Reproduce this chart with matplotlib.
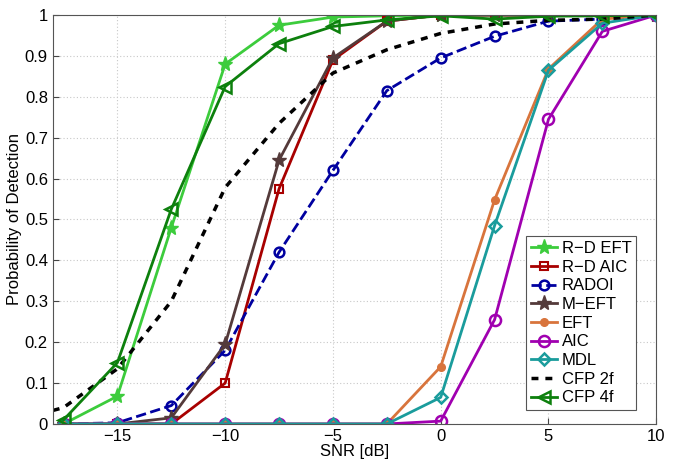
import matplotlib
matplotlib.use("Agg")
import matplotlib.pyplot as plt

plt.rcParams['font.family'] = ['Liberation Sans', 'DejaVu Sans']

snr = [-17.5, -15, -12.5, -10, -7.5, -5, -2.5, 0, 2.5, 5, 7.5, 10]
rd_eft = [0.0, 0.068, 0.48, 0.88, 0.975, 0.995, 0.998, 1.0, 1.0, 1.0, 1.0, 1.0]
rd_aic = [0.0, 0.0, 0.0, 0.10, 0.575, 0.89, 0.985, 1.0, 1.0, 1.0, 1.0, 1.0]
radoi = [0.0, 0.003, 0.045, 0.18, 0.42, 0.62, 0.815, 0.895, 0.948, 0.985, 0.99, 1.0]
m_eft = [0.0, 0.0, 0.015, 0.195, 0.645, 0.895, 0.985, 1.0, 1.0, 1.0, 1.0, 1.0]
eft = [0.0, 0.0, 0.0, 0.0, 0.0, 0.0, 0.0, 0.14, 0.548, 0.868, 0.99, 1.0]
aic = [0.0, 0.0, 0.0, 0.0, 0.0, 0.0, 0.0, 0.007, 0.255, 0.745, 0.96, 1.0]
mdl = [0.0, 0.0, 0.0, 0.0, 0.0, 0.0, 0.0, 0.065, 0.485, 0.865, 0.98, 1.0]
cfp2_snr = [-18, -17.5, -15, -12.5, -10, -7.5, -5, -2.5, 0, 2.5, 5, 7.5, 10]
cfp2 = [0.033, 0.04, 0.135, 0.30, 0.578, 0.735, 0.858, 0.915, 0.955, 0.978, 0.987, 0.99, 1.0]
cfp4 = [0.01, 0.15, 0.525, 0.825, 0.93, 0.972, 0.988, 0.998, 0.99, 0.997, 0.998, 1.0]

fig = plt.figure(figsize=(6.85, 4.69), dpi=100)
ax = fig.add_axes([0.077, 0.096, 0.881, 0.872])

lw = 2.0
ax.plot(snr, rd_eft, '-', color='#3ccc3c', lw=lw, marker='*', ms=11, mfc='#3ccc3c', mec='#3ccc3c', label='R\u2212D EFT')
ax.plot(snr, rd_aic, '-', color='#a80000', lw=lw, marker='s', ms=6, mfc='none', mec='#a80000', mew=1.5, label='R\u2212D AIC')
ax.plot(snr, radoi, '--', color='#0000a0', lw=lw, marker='o', ms=7, mfc='none', mec='#0000a0', mew=1.8, label='RADOI')
ax.plot(snr, m_eft, '-', color='#543a3a', lw=lw, marker='*', ms=11, mfc='#543a3a', mec='#543a3a', label='M\u2212EFT')
ax.plot(snr, eft, '-', color='#d8743c', lw=lw, marker='o', ms=5.5, mfc='#d8743c', mec='#d8743c', label='EFT')
ax.plot(snr, aic, '-', color='#a000b0', lw=lw, marker='o', ms=8, mfc='none', mec='#a000b0', mew=1.8, label='AIC')
ax.plot(snr, mdl, '-', color='#1a9c9c', lw=lw, marker='D', ms=6.5, mfc='none', mec='#1a9c9c', mew=1.8, label='MDL')
ax.plot(cfp2_snr, cfp2, '--', color='black', lw=2.5, dashes=(2, 2), label='CFP 2f')
ax.plot(snr, cfp4, '-', color='#0d800d', lw=lw, marker='<', ms=8, mfc='none', mec='#0d800d', mew=1.8, label='CFP 4f')

ax.set_xlim(-18, 10)
ax.set_ylim(0, 1)
ax.set_xticks([-15, -10, -5, 0, 5, 10])
ax.set_xticklabels(['\u221215', '\u221210', '\u22125', '0', '5', '10'])
ax.set_yticks([i / 10 for i in range(11)])
ax.set_yticklabels(['0', '0.1', '0.2', '0.3', '0.4', '0.5', '0.6', '0.7', '0.8', '0.9', '1'])
ax.tick_params(labelsize=12, direction='in', length=4, color='#444444')
ax.grid(True, linestyle=(0, (1, 2)), color='#c8c8c8', lw=0.8)
for s in ax.spines.values():
    s.set_color('#555555')
ax.set_xlabel('SNR [dB]', fontsize=12, labelpad=0)
ax.set_ylabel('Probability of Detection', fontsize=12, labelpad=2)

leg = ax.legend(loc='lower right', bbox_to_anchor=(0.967, 0.033), fontsize=12,
                handlelength=1.6, handletextpad=0.25, labelspacing=0.22,
                borderpad=0.3, borderaxespad=0, fancybox=False, framealpha=1,
                edgecolor='#555555')
leg.get_frame().set_linewidth(0.8)

fig.savefig('out.png', dpi=100)
